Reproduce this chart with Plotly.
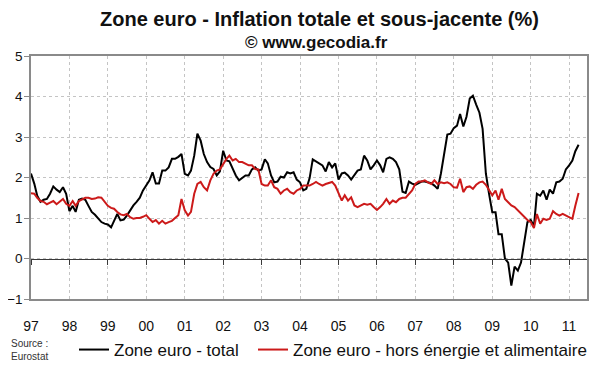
import pandas as pd
import plotly.graph_objects as go

# Monthly data, Jan 1997 - Apr 2011 (annual rate, %)
total_1997 = [2.1, 1.85, 1.55, 1.4, 1.45, 1.47, 1.6, 1.78, 1.7, 1.64, 1.76, 1.6]
total_1998 = [1.17, 1.3, 1.15, 1.45, 1.48, 1.45, 1.3, 1.15, 1.08, 1.0, 0.9, 0.86]
total_1999 = [0.84, 0.77, 0.95, 1.1, 0.94, 0.96, 1.06, 1.2, 1.31, 1.4, 1.5, 1.68]
total_2000 = [1.8, 1.93, 2.13, 1.85, 1.85, 2.17, 2.17, 2.25, 2.46, 2.46, 2.51, 2.58]
total_2001 = [2.09, 2.05, 2.17, 2.54, 3.08, 2.91, 2.58, 2.38, 2.26, 2.21, 2.05, 2.15]
total_2002 = [2.66, 2.42, 2.4, 2.2, 2.05, 1.93, 1.98, 2.05, 2.05, 2.2, 2.25, 2.17]
total_2003 = [2.2, 2.45, 2.35, 2.05, 1.88, 1.9, 2.02, 2.0, 2.13, 2.1, 2.13, 1.95]
total_2004 = [1.88, 1.68, 1.72, 1.98, 2.45, 2.4, 2.35, 2.3, 2.15, 2.38, 2.25, 2.35]
total_2005 = [1.95, 2.1, 2.12, 2.05, 1.95, 2.05, 2.17, 2.2, 2.54, 2.42, 2.2, 2.3]
total_2006 = [2.42, 2.3, 2.13, 2.46, 2.5, 2.46, 2.38, 2.2, 1.65, 1.62, 1.9, 1.85]
total_2007 = [1.82, 1.86, 1.9, 1.9, 1.88, 1.86, 1.8, 1.72, 2.1, 2.6, 3.06, 3.08]
total_2008 = [3.22, 3.28, 3.57, 3.26, 3.5, 3.95, 4.02, 3.8, 3.6, 3.2, 2.1, 1.6]
total_2009 = [1.14, 1.14, 0.6, 0.6, 0.0, -0.1, -0.67, -0.2, -0.3, -0.1, 0.45, 0.9]
total_2010 = [0.95, 0.8, 1.6, 1.55, 1.68, 1.45, 1.7, 1.6, 1.88, 1.9, 1.97, 2.2]
total_2011 = [2.3, 2.42, 2.65, 2.81]

core_1997 = [1.61, 1.6, 1.5, 1.42, 1.4, 1.34, 1.38, 1.42, 1.34, 1.4, 1.47, 1.35]
core_1998 = [1.3, 1.42, 1.3, 1.42, 1.47, 1.5, 1.5, 1.47, 1.48, 1.51, 1.5, 1.39]
core_1999 = [1.3, 1.25, 1.23, 1.15, 1.09, 1.07, 1.1, 1.02, 0.98, 1.0, 1.0, 1.03]
core_2000 = [1.07, 0.98, 0.9, 0.95, 0.86, 0.93, 0.86, 0.9, 0.93, 1.0, 1.07, 1.47]
core_2001 = [1.19, 1.06, 1.15, 1.6, 1.84, 1.89, 1.76, 1.68, 1.93, 2.09, 2.17, 2.2]
core_2002 = [2.33, 2.46, 2.54, 2.42, 2.46, 2.38, 2.38, 2.33, 2.3, 2.3, 2.21, 2.2]
core_2003 = [1.84, 1.8, 1.8, 1.93, 1.76, 1.72, 1.6, 1.68, 1.72, 1.64, 1.6, 1.68]
core_2004 = [1.72, 1.8, 1.8, 1.8, 1.84, 1.89, 1.84, 1.8, 1.84, 1.86, 1.89, 1.8]
core_2005 = [1.6, 1.43, 1.56, 1.43, 1.51, 1.31, 1.27, 1.31, 1.35, 1.33, 1.35, 1.27]
core_2006 = [1.2, 1.27, 1.35, 1.47, 1.35, 1.43, 1.39, 1.47, 1.5, 1.5, 1.6, 1.68]
core_2007 = [1.84, 1.9, 1.9, 1.93, 1.88, 1.84, 1.93, 1.84, 1.88, 1.86, 1.88, 1.84]
core_2008 = [1.76, 1.75, 1.97, 1.64, 1.76, 1.78, 1.72, 1.82, 1.88, 1.9, 1.82, 1.7]
core_2009 = [1.56, 1.68, 1.45, 1.72, 1.47, 1.39, 1.31, 1.27, 1.19, 1.1, 1.02, 0.95]
core_2010 = [0.9, 0.75, 1.1, 0.86, 0.98, 0.95, 0.98, 1.17, 1.1, 1.06, 1.1, 1.06]
core_2011 = [1.02, 0.98, 1.3, 1.62]

tick_years = list(range(1997, 2012))
tick_labels = ["97", "98", "99", "00", "01", "02", "03", "04", "05", "06", "07", "08", "09", "10", "11"]
y_ticks = [-1, 0, 1, 2, 3, 4, 5]

total = (total_1997 + total_1998 + total_1999 + total_2000 + total_2001 + total_2002 +
         total_2003 + total_2004 + total_2005 + total_2006 + total_2007 + total_2008 +
         total_2009 + total_2010 + total_2011)
core = (core_1997 + core_1998 + core_1999 + core_2000 + core_2001 + core_2002 +
        core_2003 + core_2004 + core_2005 + core_2006 + core_2007 + core_2008 +
        core_2009 + core_2010 + core_2011)
dates = pd.date_range("1997-01-01", periods=len(total), freq="MS")
tickvals = [f"{y}-01-01" for y in tick_years]

FONT = "Liberation Sans, Arial, sans-serif"
# the page body adds an 8px offset, so the figure is 8px smaller on each axis
OFF = 8
W, H = 600 - OFF, 372 - OFF
L, R, T, B = 31 - OFF, 13, 56 - OFF, 73
PW, PH = W - L - R, H - T - B


def px(xp):
    return (xp - 31) / PW


def py(yp):
    return (299 - yp) / PH


fig = go.Figure()
fig.add_trace(go.Scatter(x=dates, y=total, mode="lines", name="Zone euro - total",
                         line=dict(color="#000000", width=2), legend="legend"))
fig.add_trace(go.Scatter(x=dates, y=core, mode="lines",
                         name="Zone euro - hors énergie et alimentaire",
                         line=dict(color="#cc1a1a", width=2), xaxis="x2",
                         legend="legend2"))

xr = ["1997-01-01", "2011-06-20"]
legend_common = dict(orientation="h", xanchor="left", yanchor="middle",
                     font=dict(size=17, family=FONT, color="#111111"),
                     itemwidth=30, bgcolor="rgba(0,0,0,0)")
fig.update_layout(
    width=W, height=H,
    margin=dict(l=L, r=R, t=T, b=B, autoexpand=False),
    paper_bgcolor="white", plot_bgcolor="white",
    font=dict(family=FONT, color="#111111"),
    showlegend=True,
    xaxis=dict(type="date", range=xr, tickvals=tickvals, ticktext=tick_labels,
               showgrid=True, gridcolor="#c4c4c4", griddash="dot", gridwidth=1,
               showline=True, linecolor="#8a8a8a", linewidth=1.5, mirror=True,
               ticks="", tickfont=dict(size=14, color="#111111"),
               ticklabelstandoff=13, zeroline=False, automargin=False),
    xaxis2=dict(type="date", range=xr, tickvals=tickvals, overlaying="x",
                matches="x", anchor="free", position=1 / 6, side="bottom",
                showgrid=False, showline=True, linecolor="#3a3a3a", linewidth=1.2,
                ticks="outside", ticklen=5, tickcolor="#3a3a3a", tickwidth=1.2,
                showticklabels=False, zeroline=False, automargin=False),
    yaxis=dict(range=[-1, 5], tickvals=y_ticks, showgrid=True, gridcolor="#c4c4c4",
               griddash="dot", gridwidth=1, showline=True, linecolor="#8a8a8a",
               linewidth=1.5, mirror=True, ticks="outside", ticklen=5,
               tickcolor="#8a8a8a", tickfont=dict(size=13.5, color="#111111"),
               ticklabelstandoff=-1, zeroline=False, automargin=False),
    legend=dict(x=px(74), y=py(350), **legend_common),
    legend2=dict(x=px(253), y=py(350), **legend_common),
    annotations=[
        dict(text="<b>Zone euro - Inflation totale et sous-jacente (%)</b>",
             xref="paper", yref="paper", x=px(319), y=py(19),
             xanchor="center", yanchor="middle", showarrow=False,
             font=dict(size=20, family=FONT, color="#111111")),
        dict(text="<b>© www.gecodia.fr</b>", xref="paper", yref="paper",
             x=px(316), y=py(42), xanchor="center", yanchor="middle",
             showarrow=False, font=dict(size=17, family=FONT, color="#111111")),
        dict(text="Source :<br>Eurostat", xref="paper", yref="paper",
             x=px(9), y=py(350), xanchor="left", yanchor="middle",
             align="left", showarrow=False,
             font=dict(size=10, family=FONT, color="#333333")),
    ],
)
fig.write_html("out.html")
